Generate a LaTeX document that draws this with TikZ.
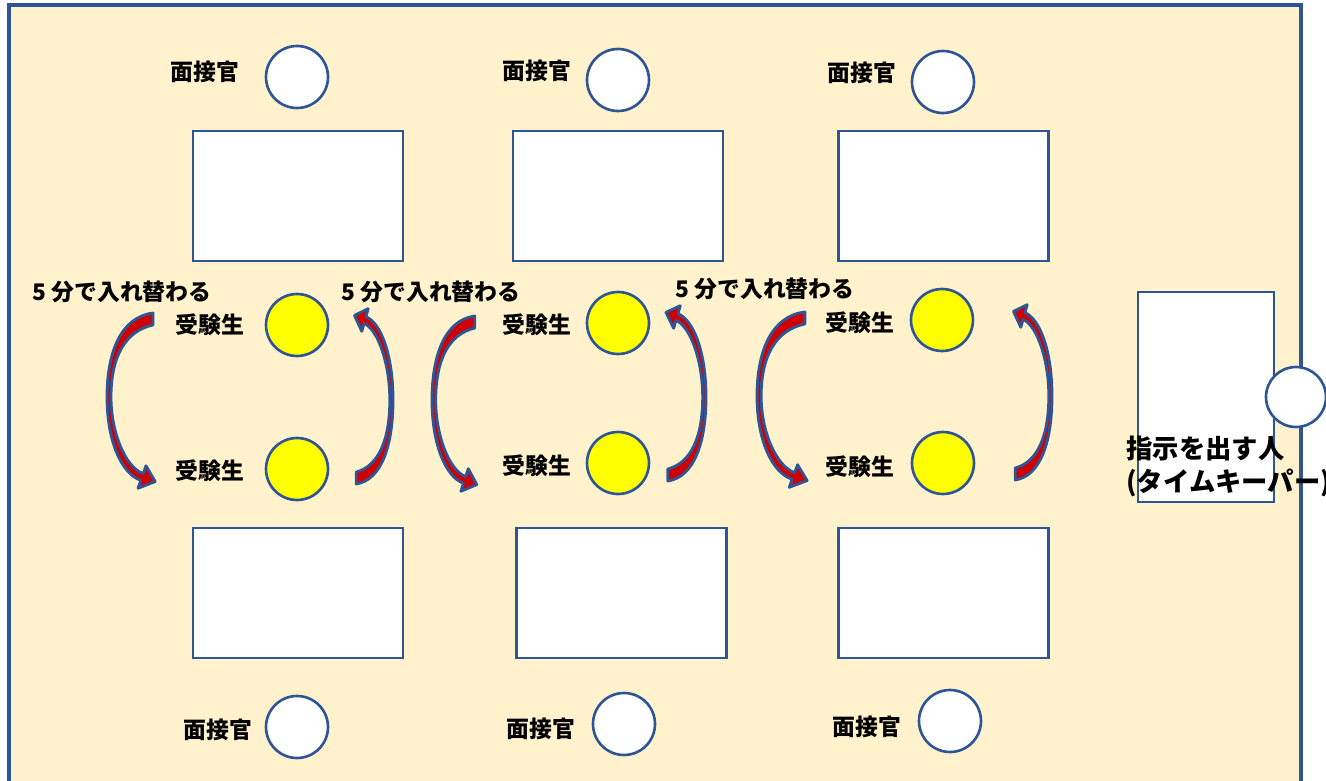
\documentclass[tikz,border=0pt]{standalone}
\usepackage{fontspec}
\setmainfont{Noto Sans CJK JP}
\definecolor{floor}{HTML}{FFF2CC}
\definecolor{edge}{HTML}{2F5597}
\definecolor{seatyellow}{HTML}{FFFF00}
\definecolor{swapred}{HTML}{D00000}
\tikzset{
	swaparrow/.pic={
		\draw[draw=edge, line width=1.6pt, fill=swapred, line join=round]
			(46,-84) .. controls (14,-80) and (0,-45) .. (0,0)
			.. controls (0,45) and (15,77) .. (33.8,83.3)
			-- (31,91.3) -- (48.2,84.6) -- (39,68.7) -- (36.2,76.7)
			.. controls (18,70) and (4,35) .. (4,0)
			.. controls (4,-40) and (18,-66) .. (46,-72) -- cycle;
	}
}
\begin{document}
\begin{tikzpicture}[
				x=0.02cm, y=-0.02cm,
				room/.style={draw=edge, line width=2.1pt, fill=floor},
				desk/.style={rectangle, draw=edge, line width=1.4pt, fill=white, inner sep=0pt},
				seat/.style={circle, draw=edge, line width=1.5pt, fill=white, minimum size=1.24cm, inner sep=0pt},
				pupil/.style={seat, fill=seatyellow},
				lbl/.style={inner sep=0pt, font=\bfseries\fontsize{13}{18.8}\selectfont}
			]
			\useasboundingbox (0,0) rectangle (1326,781);
			\fill[white] (0,0) rectangle (1326,781);
			\draw[room] (9,5) rectangle (1301,800);

			% desks
			\foreach \n/\x/\y in {
				dt1/298/196,
				dt2/618/196,
				dt3/943.5/196,
				db1/298/593,
				db2/621.5/593,
				db3/943.5/593}
				\node[desk, minimum width=4.2cm, minimum height=2.6cm] (\n) at (\x,\y) {};

			% interviewers
			\node[seat] (it1) at (297,77)	{};
			\node[seat] (it2) at (618,80)	{};
			\node[seat] (it3) at (943,82)	{};
			\node[seat] (ib1) at (297,727)	{};
			\node[seat] (ib2) at (624,724)	{};
			\node[seat] (ib3) at (950,721)	{};
			\node[lbl] (lit1) at (205,72)	{面接官};
			\node[lbl] (lit2) at (537,71)	{面接官};
			\node[lbl] (lit3) at (862,73)	{面接官};
			\node[lbl] (lib1) at (218,730)	{面接官};
			\node[lbl] (lib2) at (541,729)	{面接官};
			\node[lbl] (lib3) at (867,727)	{面接官};

			% candidates
			\node[pupil] (pu1) at (297,325)	{};
			\node[pupil] (pl1) at (297,469)	{};
			\node[pupil] (pu2) at (618,323)	{};
			\node[pupil] (pl2) at (618,463)	{};
			\node[pupil] (pu3) at (942,320)	{};
			\node[pupil] (pl3) at (943,463)	{};
			\node[lbl] (lpu1) at (210,325)	{受験生};
			\node[lbl] (lpl1) at (210,471)	{受験生};
			\node[lbl] (lpu2) at (537,325)	{受験生};
			\node[lbl] (lpl2) at (537,466)	{受験生};
			\node[lbl] (lpu3) at (860,323)	{受験生};
			\node[lbl] (lpl3) at (860,467)	{受験生};

			% rotation arrows
			\foreach \x/\y/\s/\r in {
				107/397/1/0,
				432/400/0.93/0,
				757/396/1.04/0,
				393/400/0.8/180,
				706/397/0.83/180,
				1052/396/0.8/180}
				\pic[rotate=\r, xscale=\s] at (\x,\y) {swaparrow};
			\node[lbl] (sw1) at (122,292)	{5 分で入れ替わる};
			\node[lbl] (sw2) at (431,292)	{5 分で入れ替わる};
			\node[lbl] (sw3) at (765,289)	{5 分で入れ替わる};

			% time keeper
			\node[desk, minimum width=2.72cm, minimum height=4.2cm] (dk) at (1206,397) {};
			\node[seat, minimum size=1.2cm] (tk) at (1296,397) {};
			\node[lbl, anchor=west, align=left, font=\bfseries\fontsize{15}{18.8}\selectfont] (ltk) at (1126,466) {指示を出す人\\(タイムキーパー)};

		\end{tikzpicture}
\end{document}
